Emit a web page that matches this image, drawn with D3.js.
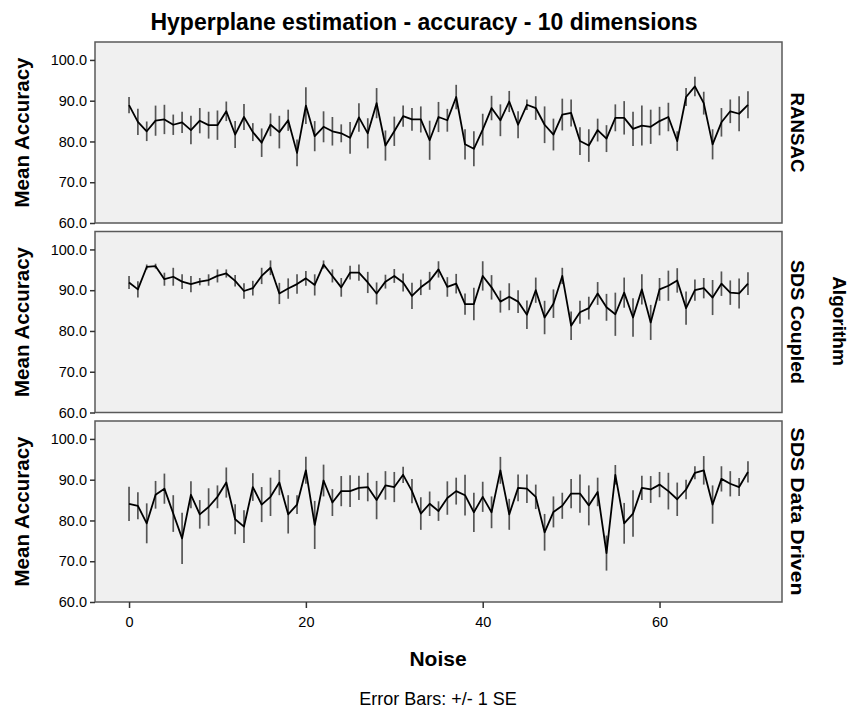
<!DOCTYPE html>
<html>
<head>
<meta charset="utf-8">
<script src="https://cdn.jsdelivr.net/npm/d3@7"></script>
<style>
  body { margin: 0; background: #fff; }
  svg text { font-family: "Liberation Sans", Arial, sans-serif; fill: #000; }
</style>
</head>
<body>
<svg></svg>
<script>
// Noise levels (x categories)
const noise = d3.range(0, 71);

// Mean accuracy and standard error per algorithm
const ransacMean = [88.9, 84.8, 82.5, 85.1, 85.4, 84.1, 84.7, 82.8, 85.1, 84.0,
  84.0, 87.4, 81.7, 86.0, 82.3, 79.7, 84.1, 82.3, 85.2, 77.2,
  88.8, 81.3, 83.6, 82.5, 82.0, 80.9, 85.9, 82.0, 89.4, 79.0,
  82.5, 86.2, 85.4, 85.4, 80.3, 86.0, 85.2, 90.9, 79.3, 78.2,
  82.9, 88.2, 85.2, 89.8, 84.1, 89.0, 88.2, 84.1, 81.7, 86.6,
  87.0, 80.1, 79.0, 82.8, 80.7, 85.8, 85.8, 83.1, 83.9, 83.6,
  85.0, 86.0, 80.1, 90.9, 93.5, 89.4, 79.3, 84.7, 87.4, 86.8, 89.0];
const ransacSE = [2.0, 3.2, 2.4, 3.7, 3.6, 2.5, 2.6, 3.5, 3.1, 3.3,
  3.6, 2.4, 3.3, 3.2, 2.2, 3.5, 2.8, 4.0, 2.6, 3.3,
  4.5, 3.7, 3.8, 3.5, 2.2, 3.9, 3.5, 3.7, 3.7, 3.7,
  3.6, 2.6, 2.8, 3.2, 4.8, 3.7, 2.8, 3.0, 3.7, 4.3,
  3.9, 3.0, 3.9, 2.6, 3.3, 1.3, 2.9, 4.5, 3.9, 3.9,
  3.3, 3.4, 4.0, 2.8, 3.3, 3.3, 4.1, 4.2, 4.9, 4.2,
  3.5, 3.5, 2.4, 2.2, 2.4, 2.8, 3.7, 3.5, 2.9, 4.3, 3.3];

const coupledMean = [91.9, 90.2, 95.7, 95.9, 92.7, 93.3, 92.1, 91.5, 92.1, 92.5,
  93.5, 94.1, 92.3, 89.8, 90.5, 93.5, 95.5, 89.2, 90.4, 91.5,
  92.9, 91.3, 96.3, 93.5, 90.7, 94.3, 94.3, 91.9, 89.2, 92.1,
  93.5, 91.9, 88.6, 90.7, 92.3, 95.1, 90.8, 91.6, 86.6, 86.6,
  93.5, 90.7, 87.2, 88.4, 87.2, 84.0, 90.0, 83.3, 86.7, 93.5,
  81.3, 84.6, 85.6, 89.2, 85.8, 84.1, 89.4, 83.3, 90.2, 82.1,
  90.2, 91.1, 92.4, 85.6, 90.0, 90.5, 88.2, 91.6, 89.4, 89.2, 91.6];
const coupledSE = [1.6, 2.0, 0.6, 0.6, 1.6, 2.2, 1.8, 2.0, 0.9, 1.4,
  1.6, 1.0, 1.4, 1.9, 1.8, 2.0, 1.8, 2.6, 2.5, 2.4,
  1.8, 2.6, 1.0, 1.6, 2.3, 1.7, 2.0, 2.6, 2.7, 1.7,
  1.7, 2.2, 3.2, 1.9, 2.2, 2.0, 2.4, 2.4, 2.6, 4.0,
  3.6, 3.0, 2.7, 3.3, 2.8, 3.5, 3.1, 4.1, 3.5, 2.0,
  3.5, 2.8, 2.8, 2.8, 3.3, 5.3, 3.7, 4.7, 3.7, 4.3,
  2.8, 3.7, 3.0, 4.1, 2.6, 2.5, 4.3, 3.0, 3.0, 3.7, 2.8];

const drivenMean = [84.1, 83.6, 79.3, 86.3, 87.8, 81.7, 75.6, 86.3, 81.5, 83.3,
  85.8, 89.3, 80.3, 78.5, 88.2, 83.9, 85.8, 89.3, 81.5, 83.9,
  92.3, 78.9, 89.8, 84.4, 87.2, 87.2, 88.0, 88.2, 85.0, 88.6,
  88.2, 91.2, 87.2, 81.7, 84.1, 82.3, 85.5, 87.2, 86.2, 82.0,
  85.8, 82.0, 92.3, 81.5, 88.0, 87.8, 85.8, 77.1, 82.1, 83.6,
  86.6, 86.6, 83.7, 87.0, 72.0, 91.2, 79.3, 81.7, 88.0, 87.6,
  88.8, 87.2, 85.2, 87.6, 91.7, 92.3, 83.9, 90.2, 89.0, 88.2, 91.9];
const drivenSE = [4.2, 3.3, 4.9, 3.4, 3.7, 4.5, 6.3, 3.3, 3.5, 4.6,
  2.8, 3.7, 3.7, 4.0, 3.4, 4.3, 4.7, 3.1, 4.7, 2.3,
  3.3, 5.9, 3.9, 3.3, 3.7, 3.9, 3.0, 3.5, 4.7, 3.5,
  3.7, 2.0, 3.0, 4.0, 3.0, 2.4, 4.1, 3.3, 5.0, 4.8,
  3.7, 3.9, 3.3, 3.8, 3.3, 3.5, 3.0, 4.5, 3.8, 3.2,
  3.6, 4.7, 4.9, 3.5, 4.3, 2.4, 5.0, 5.7, 3.0, 3.3,
  3.1, 4.5, 4.1, 2.4, 1.6, 3.5, 4.7, 3.1, 3.1, 2.2, 2.6];

const algorithms = ["RANSAC", "SDS Coupled", "SDS Data Driven"];
const yTicks = [60, 70, 80, 90, 100];
const xTicks = [0, 20, 40, 60];

const panels = [
  {name: algorithms[0], mean: ransacMean, se: ransacSE, labelLen: 80},
  {name: algorithms[1], mean: coupledMean, se: coupledSE, labelLen: 124},
  {name: algorithms[2], mean: drivenMean, se: drivenSE, labelLen: 168}
];

// Layout
const panelLeft = 95, panelRight = 782, panelHeight = 181;
const panelTops = [42, 231.5, 421];

const svg = d3.select("svg")
              .attr("width", 857)
              .attr("height", 713);

const x = d3.scaleLinear()
            .domain([-3.85, 73.85])
            .range([panelLeft, panelRight]);

panels.forEach((p, i) => {
  const top = panelTops[i];
  const y = d3.scaleLinear()
              .domain([60, 104.4])
              .range([top + panelHeight, top]);

  const g = svg.append("g");

  // Panel background
  g.append("rect")
   .attr("x", panelLeft)
   .attr("y", top)
   .attr("width", panelRight - panelLeft)
   .attr("height", panelHeight)
   .attr("fill", "#f0f0f0")
   .attr("stroke", "#5a5a5a")
   .attr("stroke-width", 1.5);

  // Y axis
  g.append("g")
   .attr("transform", `translate(${panelLeft},0)`)
   .call(d3.axisLeft(y).tickValues(yTicks).tickSize(5).tickFormat(d3.format(".1f")))
   .call(a => a.select(".domain").remove())
   .call(a => a.selectAll("line").attr("stroke", "#333").attr("stroke-width", 1.5))
   .selectAll("text")
   .style("font-size", "14.5px");

  const rows = noise.map((n, j) => ({n: n, m: p.mean[j], se: p.se[j]}));

  // Error bars (+/- 1 SE)
  g.selectAll(".err")
   .data(rows)
   .enter()
   .append("line")
   .attr("class", "err")
   .attr("x1", d => x(d.n))
   .attr("x2", d => x(d.n))
   .attr("y1", d => y(d.m - d.se))
   .attr("y2", d => y(d.m + d.se))
   .attr("stroke", "#555")
   .attr("stroke-width", 1.7);

  // Mean line
  g.append("path")
   .datum(rows)
   .attr("fill", "none")
   .attr("stroke", "#000")
   .attr("stroke-width", 1.8)
   .attr("stroke-linejoin", "round")
   .attr("d", d3.line().x(d => x(d.n)).y(d => y(d.m)));

  // Y axis title
  svg.append("text")
     .attr("transform", `translate(29,${top + panelHeight / 2}) rotate(-90)`)
     .attr("textLength", 150)
     .attr("lengthAdjust", "spacingAndGlyphs")
     .style("text-anchor", "middle")
     .style("font-size", "19.5px")
     .style("font-weight", "bold")
     .text("Mean Accuracy");

  // Strip label on the right
  svg.append("text")
     .attr("transform", `translate(791,${top + panelHeight / 2}) rotate(90)`)
     .attr("textLength", p.labelLen)
     .attr("lengthAdjust", "spacingAndGlyphs")
     .style("text-anchor", "middle")
     .style("font-size", "19px")
     .style("font-weight", "bold")
     .text(p.name);
});

// X axis under the last panel
svg.append("g")
   .attr("transform", `translate(0,${panelTops[2] + panelHeight})`)
   .call(d3.axisBottom(x).tickValues(xTicks).tickSize(6).tickPadding(9))
   .call(a => a.select(".domain").remove())
   .call(a => a.selectAll("line").attr("stroke", "#333").attr("stroke-width", 1.5))
   .selectAll("text")
   .style("font-size", "14.5px");

// Title
svg.append("text")
   .attr("x", 424)
   .attr("y", 30)
   .style("text-anchor", "middle")
   .style("font-size", "23px")
   .style("font-weight", "bold")
   .text("Hyperplane estimation - accuracy - 10 dimensions");

// Facet title
svg.append("text")
   .attr("transform", `translate(833,321) rotate(90)`)
   .style("text-anchor", "middle")
   .style("font-size", "19px")
   .style("font-weight", "bold")
   .text("Algorithm");

// X axis title
svg.append("text")
   .attr("x", 438)
   .attr("y", 666)
   .style("text-anchor", "middle")
   .style("font-size", "21px")
   .style("font-weight", "bold")
   .text("Noise");

// Footnote
svg.append("text")
   .attr("x", 438)
   .attr("y", 705)
   .style("text-anchor", "middle")
   .style("font-size", "18px")
   .text("Error Bars: +/- 1 SE");
</script>
</body>
</html>
